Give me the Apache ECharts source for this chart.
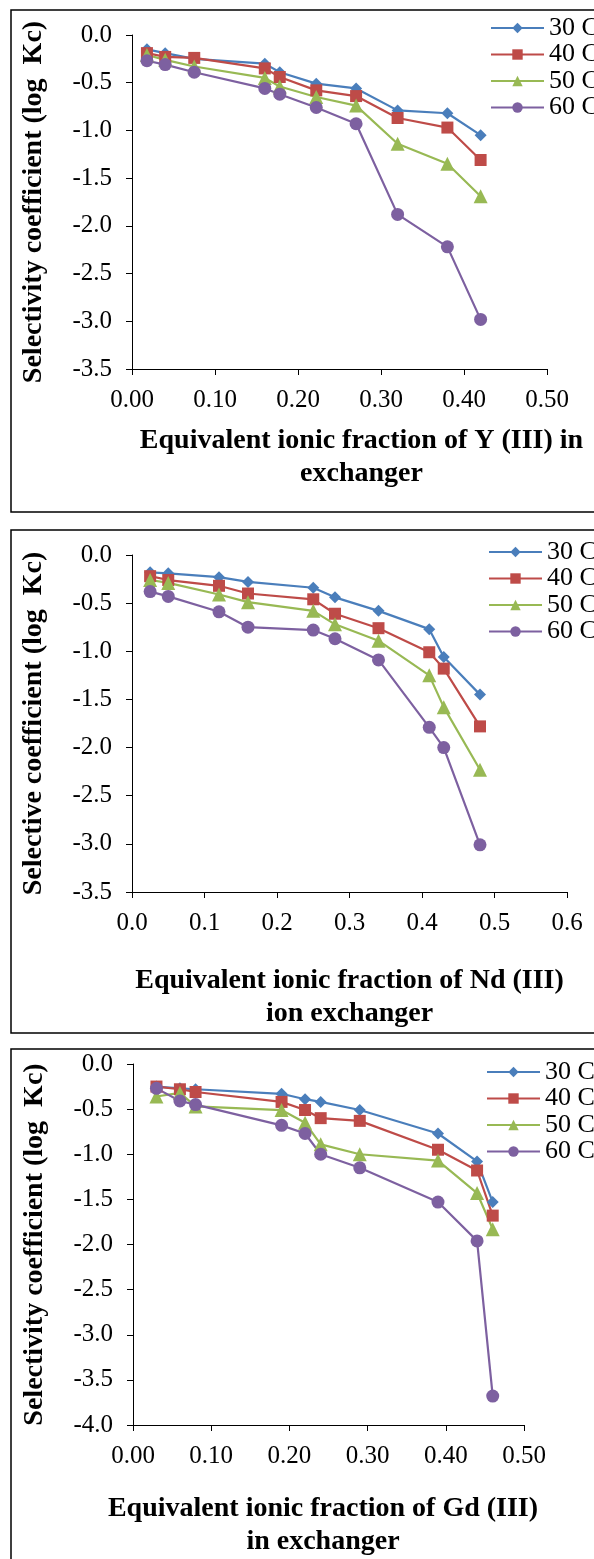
<!DOCTYPE html>
<html>
<head>
<meta charset="utf-8">
<script src="https://cdn.jsdelivr.net/npm/echarts@6/dist/echarts.min.js"></script>
<style>
  html, body { margin: 0; padding: 0; background: #fff; }
  #chart { width: 594px; height: 1559px; }
</style>
</head>
<body>
<div id="chart"></div>
<script>
// legend names
var temps = ['30 C', '40 C', '50 C', '60 C'];

// panel 1 : Y (III)
var yX = [0.018, 0.04, 0.075, 0.16, 0.178, 0.222, 0.27, 0.32, 0.38, 0.42];
var y30 = [-0.15, -0.19, -0.25, -0.30, -0.39, -0.51, -0.56, -0.79, -0.82, -1.05];
var y40 = [-0.19, -0.23, -0.24, -0.35, -0.44, -0.58, -0.64, -0.87, -0.97, -1.31];
var y50 = [-0.21, -0.26, -0.33, -0.45, -0.54, -0.65, -0.74, -1.14, -1.35, -1.69];
var y60 = [-0.27, -0.31, -0.39, -0.56, -0.62, -0.76, -0.93, -1.88, -2.22, -2.98];

// panel 2 : Nd (III)
var ndX = [0.025, 0.05, 0.12, 0.16, 0.25, 0.28, 0.34, 0.41, 0.43, 0.48];
var nd30 = [-0.18, -0.19, -0.23, -0.28, -0.34, -0.44, -0.58, -0.77, -1.06, -1.45];
var nd40 = [-0.22, -0.26, -0.32, -0.40, -0.46, -0.61, -0.76, -1.01, -1.18, -1.78];
var nd50 = [-0.26, -0.29, -0.41, -0.49, -0.58, -0.72, -0.89, -1.25, -1.58, -2.23];
var nd60 = [-0.38, -0.43, -0.59, -0.75, -0.78, -0.87, -1.09, -1.79, -2.00, -3.01];

// panel 3 : Gd (III)
var gdX = [0.03, 0.06, 0.08, 0.19, 0.22, 0.24, 0.29, 0.39, 0.44, 0.46];
var gd30 = [-0.25, -0.27, -0.28, -0.33, -0.39, -0.42, -0.51, -0.77, -1.08, -1.53];
var gd40 = [-0.25, -0.28, -0.31, -0.42, -0.51, -0.60, -0.63, -0.95, -1.18, -1.68];
var gd50 = [-0.36, -0.32, -0.47, -0.51, -0.65, -0.89, -1.00, -1.07, -1.43, -1.83];
var gd60 = [-0.27, -0.41, -0.45, -0.68, -0.77, -1.00, -1.15, -1.53, -1.96, -3.68];

var xTitles = ['Equivalent ionic fraction of Y (III) in\nexchanger',
               'Equivalent ionic fraction of Nd (III)\nion exchanger',
               'Equivalent ionic fraction of Gd (III)\nin exchanger'];
var yTitles = ['Selectivity coefficient (log  Kc)',
               'Selective coefficient (log  Kc)',
               'Selectivity coefficient (log  Kc)'];

var colors = ['#4a7ebb', '#be4b48', '#98b954', '#7d60a0'];
var symbols = ['diamond', 'rect', 'triangle', 'circle'];
var sizes = [12, 12, 14, 13];
var font = 'Liberation Serif';

function pairs(xs, ys) {
  var out = [];
  for (var i = 0; i < xs.length; i++) out.push([xs[i], ys[i]]);
  return out;
}

var panels = [
  { xs: yX, ys: [y30, y40, y50, y60], xmax: 0.5, ymin: -3.5, dec: 2 },
  { xs: ndX, ys: [nd30, nd40, nd50, nd60], xmax: 0.6, ymin: -3.5, dec: 1 },
  { xs: gdX, ys: [gd30, gd40, gd50, gd60], xmax: 0.5, ymin: -4.0, dec: 2 }
];

var grids = [
  { left: 132, right: 47, top: 35, height: 334 },
  { left: 132, right: 27, top: 555, height: 337 },
  { left: 133, right: 70, top: 1064, height: 362 }
];
var xNameGap = [55, 72, 67];
var xNamePad = [[0, 0, 0, 44], [0, 0, 0, 0], [0, 11, 0, 0]];
var legendPos = [{ left: 485, top: 10 }, { left: 483, top: 534 }, { left: 481, top: 1054 }];
var boxes = [{ y: 10, h: 502 }, { y: 530, h: 503 }, { y: 1049, h: 530 }];

var xAxes = [], yAxes = [], series = [], legends = [], graphics = [];

for (var p = 0; p < 3; p++) {
  var pan = panels[p];
  (function (dec) {
    xAxes.push({
      type: 'value', gridIndex: p, min: 0, max: pan.xmax, interval: 0.1,
      name: xTitles[p], nameLocation: 'middle', nameGap: xNameGap[p],
      nameTextStyle: { fontFamily: font, fontWeight: 'bold', fontSize: 28, lineHeight: 33, color: '#000', padding: xNamePad[p] },
      axisLine: { onZero: false, lineStyle: { color: '#000', width: 1 } },
      axisTick: { length: 6, lineStyle: { color: '#000' } },
      axisLabel: { margin: 19, fontFamily: font, fontSize: 25, color: '#000',
        formatter: function (v) { return v.toFixed(dec); } },
      splitLine: { show: false }
    });
  })(pan.dec);
  yAxes.push({
    type: 'value', gridIndex: p, min: pan.ymin, max: 0, interval: 0.5,
    name: yTitles[p], nameLocation: 'middle', nameGap: 84, nameRotate: 90,
    nameTextStyle: { fontFamily: font, fontWeight: 'bold', fontSize: 28, color: '#000' },
    axisLine: { show: true, onZero: false, lineStyle: { color: '#000', width: 1 } },
    axisTick: { show: true, length: 6, lineStyle: { color: '#000' } },
    axisLabel: { margin: 20, fontFamily: font, fontSize: 25, color: '#000',
      formatter: function (v) { return v.toFixed(1); } },
    splitLine: { show: false }
  });
  for (var s = 0; s < 4; s++) {
    series.push({
      name: temps[s], type: 'line', xAxisIndex: p, yAxisIndex: p,
      data: pairs(pan.xs, pan.ys[s]),
      symbol: symbols[s], symbolSize: sizes[s],
      lineStyle: { color: colors[s], width: 2.2 },
      itemStyle: { color: colors[s] },
      animation: false
    });
  }
  legends.push({
    data: temps, orient: 'vertical', left: legendPos[p].left, top: legendPos[p].top,
    itemWidth: 53, itemHeight: 13, itemGap: 0.5,
    textStyle: { fontFamily: font, fontSize: 26, lineHeight: 26, color: '#000' }
  });
  graphics.push({
    type: 'rect', shape: { x: 11, y: boxes[p].y, width: 620, height: boxes[p].h },
    style: { fill: null, stroke: '#000', lineWidth: 1.5 }, silent: true
  });
}

var myChart = echarts.init(document.getElementById('chart'));
var option = {
  animation: false,
  grid: grids,
  xAxis: xAxes,
  yAxis: yAxes,
  legend: legends,
  graphic: graphics,
  series: series
};
myChart.setOption(option);
</script>
</body>
</html>
